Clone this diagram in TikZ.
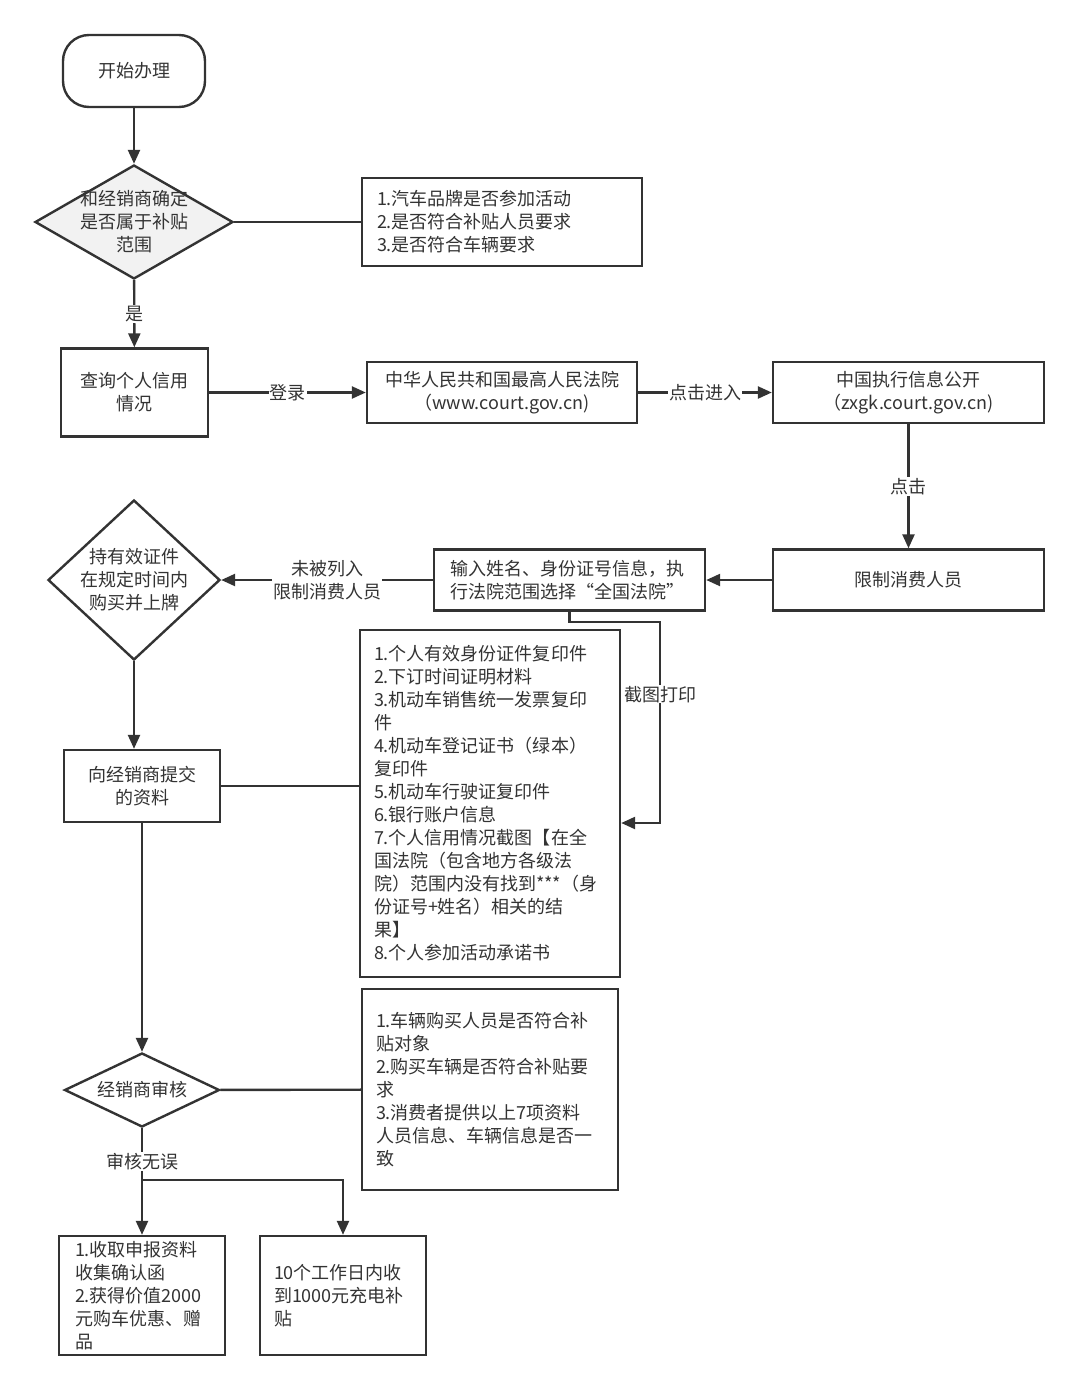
\documentclass[tikz,border=0pt]{standalone}
\usepackage{fontspec}
\setmainfont{Noto Sans CJK SC}
\usetikzlibrary{arrows.meta,shapes.geometric}
\definecolor{ln}{HTML}{333333}
\definecolor{shade}{HTML}{F2F2F2}

\begin{document}
\begin{tikzpicture}[x=1pt, y=-1pt, >={Triangle[length=14pt,width=12pt]},
    every node/.style={text=ln, font=\fontsize{18pt}{23pt}\selectfont},
    boxline/.style={draw=ln, line width=2.4pt, fill=white, inner sep=0pt, align=center},
    plainbox/.style 2 args={boxline, minimum width=#1, minimum height=#2},
    notebox/.style 2 args={boxline, text width=#1, minimum height=#2, inner xsep=14pt, align=left},
    decision/.style 2 args={boxline, diamond, minimum width=#1, minimum height=#2},
    tag/.style={fill=white, inner sep=1pt, align=center},
    plainline/.style={draw=ln, line width=2.4pt},
    flowarrow/.style={plainline, ->}]
\path[fill=white] (0,0) rectangle (1080,1389);
\useasboundingbox (0,0) rectangle (1080,1389);

%% 开始与补贴范围
\node[plainbox={142pt}{72pt}, rounded corners=26pt] (start) at (134,71) {开始办理};
\node[decision={198pt}{114pt}, fill=shade] (check) at (134,222) {};
\node[align=center] (checktext) at (check) {和经销商确定\\是否属于补贴\\范围};
\node[notebox={250pt}{88pt}, inner xsep=15pt] (brand) at (502,222)
    {1.汽车品牌是否参加活动\\2.是否符合补贴人员要求\\3.是否符合车辆要求};

%% 查询个人信用
\node[plainbox={147pt}{88pt}] (credit) at (134.5,392.5) {查询个人信用\\情况};
\node[plainbox={270pt}{61pt}] (court) at (502,392.5) {中华人民共和国最高人民法院\\（www.court.gov.cn)};
\node[plainbox={271pt}{61pt}] (zxgk) at (908.5,392.5) {中国执行信息公开\\（zxgk.court.gov.cn)};
\node[plainbox={271pt}{61pt}] (limit) at (908.5,580) {限制消费人员};
\node[notebox={239pt}{61pt}, inner xsep=16pt] (query) at (569.5,580)
    {输入姓名、身份证号信息，执\\行法院范围选择“全国法院”};
\node[decision={172pt}{160pt}] (hold) at (134,580) {};
\node[align=center] (holdtext) at (hold) {持有效证件\\在规定时间内\\购买并上牌};

%% 提交资料
\node[plainbox={156pt}{72pt}] (submit) at (142,786) {向经销商提交\\的资料};
\node[notebox={232pt}{347pt}] (papers) at (490,803.5)
    {1.个人有效身份证件复印件\\2.下订时间证明材料\\3.机动车销售统一发票复印\\件\\4.机动车登记证书（绿本）\\复印件\\5.机动车行驶证复印件\\6.银行账户信息\\7.个人信用情况截图【在全\\国法院（包含地方各级法\\院）范围内没有找到***（身\\份证号+姓名）相关的结\\果】\\8.个人参加活动承诺书};

%% 经销商审核
\node[decision={155pt}{74pt}] (audit) at (142,1090) {};
\node (audittext) at (audit) {经销商审核};
\node[notebox={228pt}{201pt}] (rules) at (490,1089.5)
    {1.车辆购买人员是否符合补\\贴对象\\2.购买车辆是否符合补贴要\\求\\3.消费者提供以上7项资料\\人员信息、车辆信息是否一\\致};
\node[notebox={134pt}{119pt}, inner xsep=16pt] (gift) at (142,1295.5)
    {1.收取申报资料\\收集确认函\\2.获得价值2000\\元购车优惠、赠\\品};
\node[notebox={138pt}{119pt}] (refund) at (343,1295.5)
    {10个工作日内收\\到1000元充电补\\贴};

%% 连线
\draw[flowarrow] (start) -- (check);
\draw[plainline] (check) -- (brand);
\draw[flowarrow] (check) -- node[tag]{是} (credit);
\draw[flowarrow] (credit) -- node[tag]{登录} (court);
\draw[flowarrow] (court) -- node[tag]{点击进入} (zxgk);
\draw[flowarrow] (zxgk) -- node[tag]{点击} (limit);
\draw[flowarrow] (limit) -- (query);
\draw[flowarrow] (query) -- node[tag]{未被列入\\限制消费人员} (hold);
\draw[flowarrow] (hold.south) -- (hold.south |- submit.north);
\draw[plainline] (submit.east) -- (submit.east -| papers.west);
\coordinate (turn) at (660,823);
\draw[flowarrow] (query.south) -- ++(0,10) -| node[tag, pos=0.68]{截图打印} (turn) -- (turn -| papers.east);
\draw[flowarrow] (submit) -- (audit);
\draw[plainline] (audit) -- (rules);
\draw[flowarrow] (audit) -- node[tag, pos=0.31]{审核无误} (gift);
\coordinate (fork) at (142,1180);
\draw[flowarrow] (fork) -| (refund.north);

\end{tikzpicture}
\end{document}
